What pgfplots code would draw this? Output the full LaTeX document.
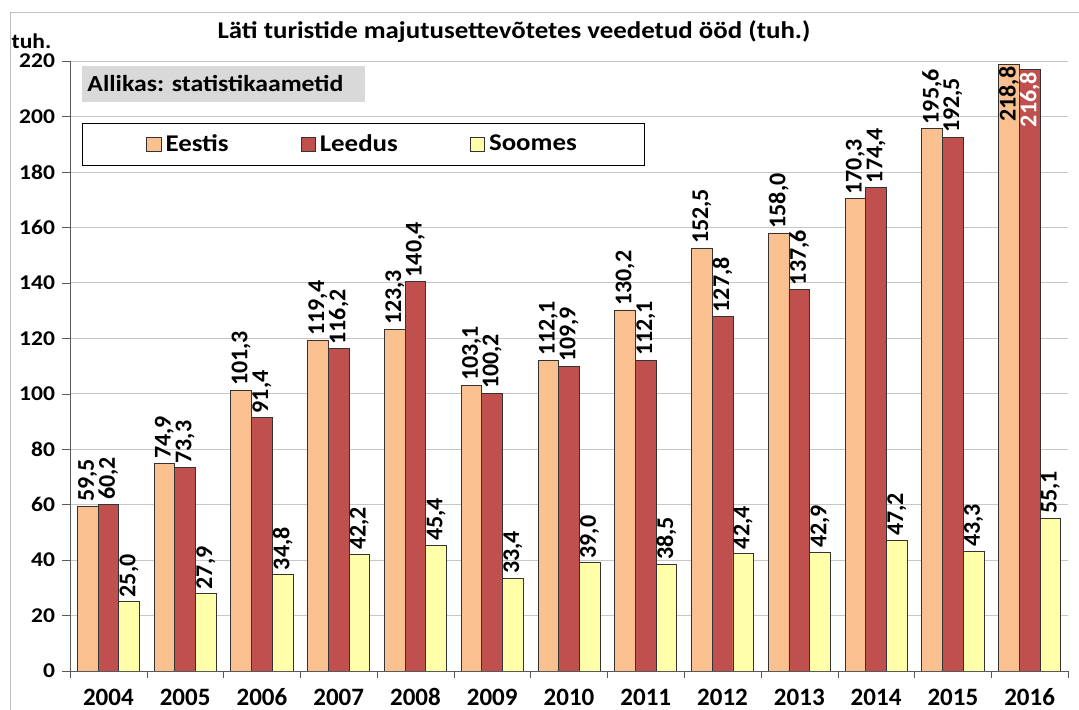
\documentclass[border=0pt]{standalone}
\usepackage{pgfplots}
\pgfplotsset{compat=1.18}
\usepackage{fontspec}
\setmainfont{Carlito}[FakeStretch=1.12]
\newfontfamily\plainf{Carlito}
\definecolor{cE}{HTML}{FAC090}
\definecolor{cL}{HTML}{C0504D}
\definecolor{cS}{HTML}{FFFFAA}
\newcommand{\lf}{\plainf\bfseries\fontsize{12}{12}\selectfont}
\newcommand{\tf}{\bfseries\fontsize{10.5}{12}\selectfont}
\newcommand{\yf}{\plainf\bfseries\fontsize{12.5}{13}\selectfont}
\newcommand{\gf}{\bfseries\fontsize{12}{12}\selectfont}
\begin{document}
\begin{tikzpicture}
\useasboundingbox (0,0) rectangle (539.5pt,355pt);
\draw[gray!50] (5pt,-5pt) -- (5pt,349pt) -- (560pt,349pt);
\begin{axis}[
  at={(35pt,19.5pt)}, anchor=south west, scale only axis,
  width=499pt, height=305pt,
  ybar=0pt, bar width=10.35pt,
  xmin=-0.5, xmax=12.5, ymin=0, ymax=220,
  ytick={0,20,...,220},
  xtick={0,...,12},
  xticklabels={2004,2005,2006,2007,2008,2009,2010,2011,2012,2013,2014,2015,2016},
  minor xtick={-0.5,0.5,...,12.5},
  major x tick style={draw=none},
  minor x tick style={gray!70!black},
  major y tick style={gray!70!black},
  tick align=outside,
  major tick length=4pt, minor tick length=3.5pt,
  axis x line*=bottom, axis y line*=left,
  axis line style={gray!70!black,-},
  ymajorgrids, grid style={gray!45},
  /pgf/number format/assume math mode=true,
  yticklabel style={font=\tf},
  xticklabel style={font=\yf, inner sep=0pt, text height=8.2pt, text depth=0pt, anchor=north, yshift=-5pt},
  point meta=y,
  nodes near coords={\pgfmathprintnumber[fixed,fixed zerofill,precision=1,use comma,assume math mode=true]{\pgfplotspointmeta}},
  every node near coord/.append style={rotate=90, anchor=west, font=\lf, inner sep=2pt},
  legend image code/.code={\draw[#1] (0pt,-3.6pt) rectangle (7.2pt,3.6pt);},
  legend columns=3,
  legend style={at={(0.012,0.898)}, anchor=north west, draw=black, font=\gf,
    inner xsep=32pt, inner ysep=3.5pt,
    /tikz/every even column/.append style={column sep=34pt}},
]
\addplot[fill=cE, draw=black!80, bar shift=-10.35pt] coordinates {
(0,59.5) (1,74.9) (2,101.3) (3,119.4) (4,123.3) (5,103.1) (6,112.1) (7,130.2) (8,152.5) (9,158.0) (10,170.3) (11,195.6)};
\addlegendentry{Eestis}
\addplot[fill=cL, draw=black!80, bar shift=0pt] coordinates {
(0,60.2) (1,73.3) (2,91.4) (3,116.2) (4,140.4) (5,100.2) (6,109.9) (7,112.1) (8,127.8) (9,137.6) (10,174.4) (11,192.5)};
\addlegendentry{Leedus}
\addplot[fill=cS, draw=black!80, bar shift=10.35pt] coordinates {
(0,25.0) (1,27.9) (2,34.8) (3,42.2) (4,45.4) (5,33.4) (6,39.0) (7,38.5) (8,42.4) (9,42.9) (10,47.2) (11,43.3) (12,55.1)};
\addlegendentry{Soomes}
\addplot[fill=cE, draw=black!80, bar shift=-10.35pt, forget plot,
  every node near coord/.append style={anchor=east, inner sep=1pt}] coordinates {(12,218.8)};
\addplot[fill=cL, draw=black!80, bar shift=0pt, forget plot,
  every node near coord/.append style={anchor=east, inner sep=1pt, text=white}] coordinates {(12,216.8)};
\end{axis}
\node[font=\bfseries\fontsize{12}{12}\selectfont] at (257pt,339pt) {Läti turistide majutusettevõtetes veedetud ööd (tuh.)};
\node[font=\tf, inner sep=0pt] at (15.75pt,334.5pt) {tuh.};
\fill[gray!30] (41pt,304pt) rectangle (182.5pt,322pt);
\node[font=\bfseries\fontsize{11.5}{12}\selectfont, anchor=west, inner sep=0pt] at (43.5pt,313pt) {Allikas: statistikaametid};
\end{tikzpicture}
\end{document}
